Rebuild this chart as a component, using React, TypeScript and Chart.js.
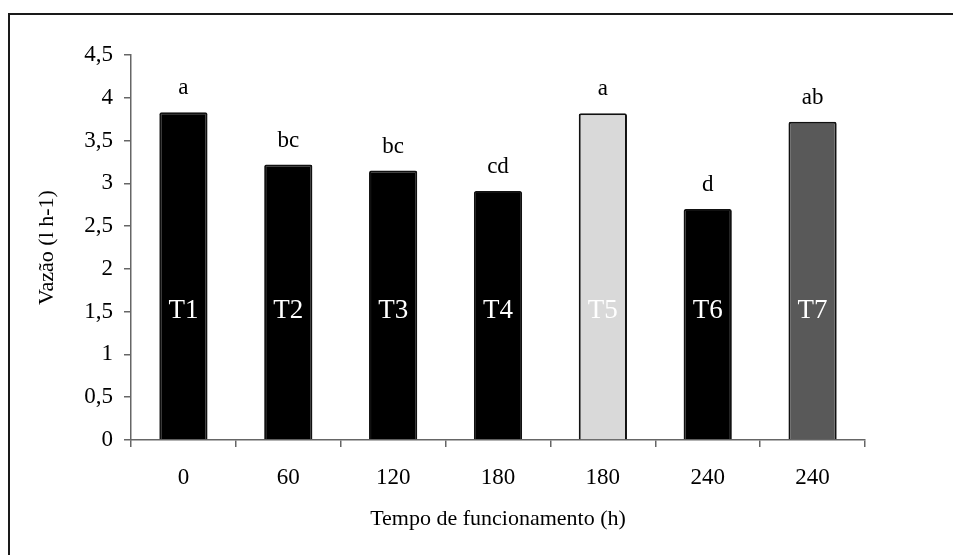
import React, { useEffect, useRef } from "react";
import { Chart, registerables } from "chart.js";

Chart.register(...registerables);

const categories = ["0", "60", "120", "180", "180", "240", "240"];
const treatments = ["T1", "T2", "T3", "T4", "T5", "T6", "T7"];
const flowValues = [3.83, 3.22, 3.15, 2.91, 3.82, 2.7, 3.72];
const letters = ["a", "bc", "bc", "cd", "a", "d", "ab"];
const yTickLabels = ["0", "0,5", "1", "1,5", "2", "2,5", "3", "3,5", "4", "4,5"];
const barColors = ["#000000", "#000000", "#000000", "#000000", "#d9d9d9", "#000000", "#595959"];
const treatmentLabelTextColors = ["#ffffff", "#ffffff", "#ffffff", "#ffffff", "#ffffff", "#ffffff", "#ffffff"];

const FONT = '"Liberation Serif", "Times New Roman", serif';

const framePlugin = {
  id: "frame",
  beforeDraw(chart: any) {
    const ctx = chart.ctx;
    ctx.save();
    ctx.fillStyle = "#ffffff";
    ctx.fillRect(0, 0, chart.width, chart.height);
    ctx.strokeStyle = "#1a1a1a";
    ctx.lineWidth = 2;
    ctx.beginPath();
    ctx.moveTo(9, chart.height);
    ctx.lineTo(9, 14);
    ctx.lineTo(chart.width, 14);
    ctx.stroke();
    ctx.restore();
  },
};

const labelPlugin = {
  id: "barLabels",
  afterDatasetsDraw(chart: any) {
    const ctx = chart.ctx;
    const meta = chart.getDatasetMeta(0);
    const yScale = chart.scales.y;
    const innerY = yScale.getPixelForValue(1.43);
    ctx.save();
    ctx.textAlign = "center";
    ctx.textBaseline = "alphabetic";
    meta.data.forEach((bar: any, i: number) => {
      ctx.fillStyle = "#000000";
      ctx.font = `23px ${FONT}`;
      ctx.fillText(letters[i], bar.x, bar.y - 18);
      ctx.fillStyle = treatmentLabelTextColors[i];
      ctx.font = `27px ${FONT}`;
      ctx.fillText(treatments[i], bar.x, innerY);
    });
    ctx.restore();
  },
};

export default function App() {
  const ref = useRef<HTMLCanvasElement | null>(null);

  useEffect(() => {
    if (!ref.current) return;
    const chart = new Chart(ref.current, {
      type: "bar",
      data: {
        labels: categories,
        datasets: [
          {
            data: flowValues,
            backgroundColor: barColors,
            borderColor: "#111111",
            borderWidth: 2,
            borderRadius: 2,
            borderSkipped: "bottom",
            barPercentage: 0.46,
            categoryPercentage: 1,
          },
        ],
      },
      options: {
        responsive: false,
        animation: false,
        devicePixelRatio: 1,
        layout: { padding: { top: 55, right: 88, left: 0, bottom: 0 } },
        plugins: {
          legend: { display: false },
          tooltip: { enabled: false },
          title: { display: false },
        },
        scales: {
          x: {
            type: "category",
            offset: true,
            afterFit(scale: any) {
              scale.height = 115;
            },
            grid: {
              display: true,
              offset: true,
              drawOnChartArea: false,
              drawTicks: true,
              tickLength: 7,
              color: "#666666",
              lineWidth: 1.5,
            },
            border: { display: true, color: "#666666", width: 1.5 },
            ticks: {
              color: "#000000",
              font: { family: FONT, size: 23 },
              padding: 17,
              maxRotation: 0,
              autoSkip: false,
            },
            title: {
              display: true,
              text: "Tempo de funcionamento (h)",
              color: "#000000",
              font: { family: FONT, size: 22 },
              padding: { top: 0, bottom: 23 },
            },
          },
          y: {
            min: 0,
            max: 4.5,
            afterFit(scale: any) {
              scale.width = 131;
            },
            grid: {
              display: true,
              drawOnChartArea: false,
              drawTicks: true,
              tickLength: 7,
              color: "#666666",
              lineWidth: 1.5,
            },
            border: { display: true, color: "#666666", width: 1.5 },
            ticks: {
              stepSize: 0.5,
              color: "#000000",
              font: { family: FONT, size: 23 },
              padding: 11,
              callback: (_v: any, index: number) => yTickLabels[index],
            },
            title: {
              display: true,
              text: "Vazão (l h-1)",
              color: "#000000",
              font: { family: FONT, size: 22 },
              padding: { top: 34, bottom: 0 },
            },
          },
        },
      },
      plugins: [framePlugin, labelPlugin],
    } as any);
    return () => chart.destroy();
  }, []);

  return (
    <div style={{ position: "fixed", left: 0, top: 0, width: 953, height: 555 }}>
      <canvas ref={ref} width={953} height={555} style={{ display: "block", width: 953, height: 555 }} />
    </div>
  );
}
